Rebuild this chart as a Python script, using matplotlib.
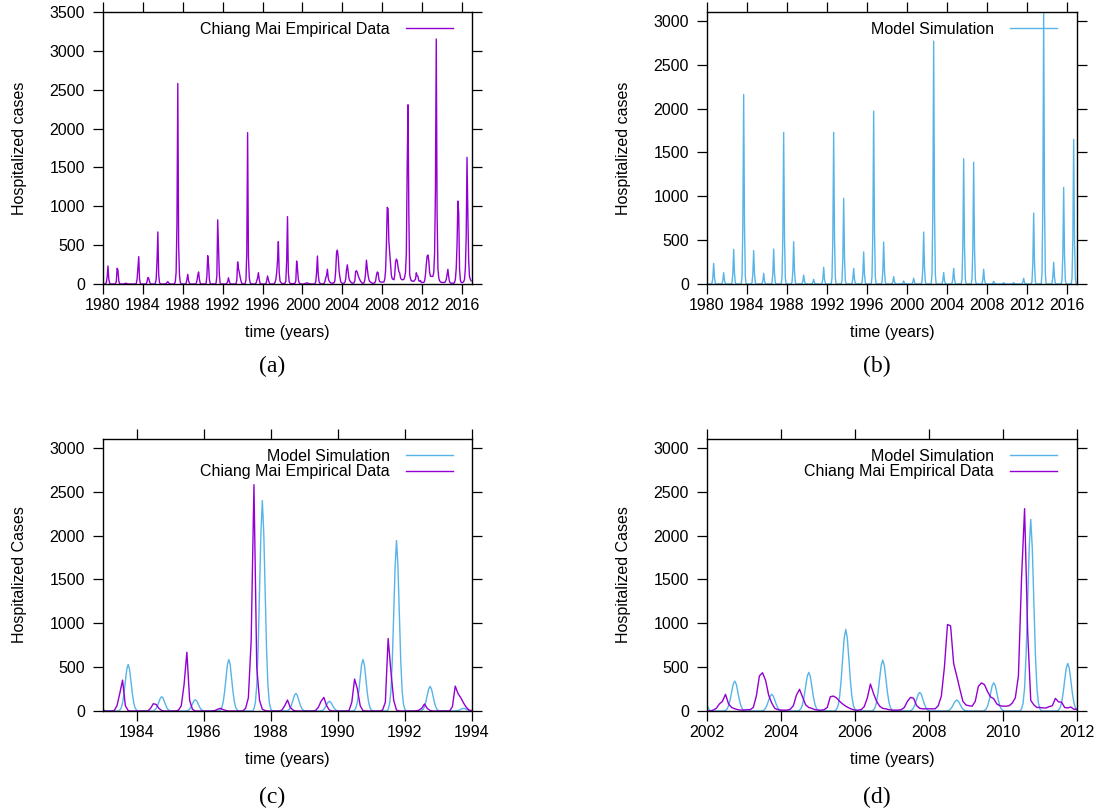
import numpy as np
import matplotlib.pyplot as plt

plt.rcParams['font.family'] = ['Liberation Sans', 'DejaVu Sans']

# monthly hospitalized cases, Chiang Mai, Jan 1980 .. Dec 2016 (one row per year)
empirical = [
    0, 0, 0, 5, 20, 90, 232, 60, 10, 0, 0, 0,               # 1980
    0, 0, 0, 5, 30, 202, 180, 40, 5, 0, 0, 0,               # 1981
    0, 0, 5, 10, 8, 5, 0, 0, 0, 0, 0, 0,                    # 1982
    0, 0, 0, 0, 5, 60, 200, 352, 60, 5, 0, 0,               # 1983
    0, 0, 0, 0, 0, 30, 83, 75, 30, 5, 0, 0,                 # 1984
    0, 0, 0, 10, 60, 300, 670, 120, 20, 0, 0, 0,            # 1985
    0, 0, 0, 0, 5, 20, 30, 15, 5, 0, 0, 0,                  # 1986
    0, 0, 0, 30, 150, 800, 2580, 500, 120, 20, 5, 0,        # 1987
    0, 0, 0, 0, 10, 60, 125, 40, 10, 0, 0, 0,               # 1988
    0, 0, 0, 0, 5, 40, 110, 155, 60, 10, 0, 0,              # 1989
    0, 0, 0, 0, 5, 100, 364, 250, 60, 5, 0, 0,              # 1990
    0, 0, 0, 0, 10, 100, 826, 450, 120, 10, 0, 0,           # 1991
    0, 0, 0, 0, 0, 10, 30, 80, 30, 5, 0, 0,                 # 1992
    0, 0, 0, 0, 0, 50, 284, 200, 150, 90, 40, 10,           # 1993
    5, 0, 0, 5, 50, 400, 1948, 350, 80, 20, 5, 0,           # 1994
    0, 0, 0, 0, 10, 40, 80, 146, 60, 10, 0, 0,              # 1995
    0, 0, 0, 0, 5, 40, 103, 60, 15, 0, 0, 0,                # 1996
    0, 0, 5, 20, 60, 150, 300, 545, 150, 40, 20, 10,        # 1997
    5, 5, 5, 10, 40, 300, 867, 150, 30, 10, 5, 5,           # 1998
    5, 5, 5, 10, 40, 296, 200, 60, 15, 5, 0, 0,             # 1999
    0, 0, 0, 5, 10, 15, 12, 10, 5, 0, 0, 0,                 # 2000
    0, 0, 0, 5, 30, 150, 360, 120, 30, 10, 5, 0,            # 2001
    0, 0, 10, 30, 80, 110, 190, 80, 40, 25, 15, 10,         # 2002
    10, 15, 15, 40, 170, 400, 436, 350, 180, 90, 30, 15,    # 2003
    10, 10, 10, 20, 60, 180, 247, 160, 70, 40, 30, 15,      # 2004
    10, 10, 15, 40, 163, 170, 150, 110, 80, 55, 35, 20,     # 2005
    10, 10, 15, 50, 150, 307, 200, 110, 55, 30, 25, 15,     # 2006
    10, 10, 10, 15, 40, 110, 155, 145, 60, 30, 25, 25,      # 2007
    25, 25, 25, 60, 170, 500, 986, 970, 540, 400, 250, 110, # 2008
    68, 60, 55, 110, 280, 320, 300, 220, 160, 140, 80, 60,  # 2009
    55, 55, 60, 90, 150, 400, 1500, 2306, 900, 120, 70, 40, # 2010
    40, 35, 35, 50, 60, 144, 105, 100, 40, 35, 45, 20,      # 2011
    20, 20, 20, 40, 120, 250, 360, 373, 300, 150, 100, 100, # 2012
    95, 100, 150, 400, 1200, 3153, 900, 200, 80, 40, 30, 20,  # 2013
    20, 20, 20, 20, 30, 60, 120, 189, 90, 30, 15, 10,       # 2014
    10, 10, 10, 20, 60, 200, 500, 1068, 920, 200, 50, 20,   # 2015
    20, 20, 30, 60, 200, 600, 1630, 900, 300, 95, 60, 40,   # 2016
]
emp_start = 1980

# model simulation shown in panel (b), monthly, Jan 1980 .. Dec 2016
model_b = [
    0, 0, 0, 0, 0, 0, 10, 70, 235, 70, 10, 0,        # 1980
    0, 0, 0, 0, 0, 0, 5, 40, 129, 40, 5, 0,          # 1981
    0, 0, 0, 0, 0, 0, 15, 120, 395, 120, 15, 0,      # 1982
    0, 0, 0, 0, 0, 0, 80, 650, 2160, 650, 80, 0,     # 1983
    0, 0, 0, 0, 0, 0, 15, 115, 380, 115, 15, 0,      # 1984
    0, 0, 0, 0, 0, 0, 5, 35, 122, 35, 5, 0,          # 1985
    0, 0, 0, 0, 0, 0, 15, 120, 398, 120, 15, 0,      # 1986
    0, 0, 0, 0, 0, 0, 70, 520, 1728, 520, 70, 0,     # 1987
    0, 0, 0, 0, 0, 0, 20, 145, 482, 145, 20, 0,      # 1988
    0, 0, 0, 0, 0, 0, 5, 30, 102, 30, 5, 0,          # 1989
    0, 0, 0, 0, 0, 0, 2, 15, 53, 15, 2, 0,           # 1990
    0, 0, 0, 0, 0, 0, 8, 55, 190, 55, 8, 0,          # 1991
    0, 0, 0, 0, 0, 0, 70, 520, 1728, 520, 70, 0,     # 1992
    0, 0, 0, 0, 0, 0, 40, 290, 976, 290, 40, 0,      # 1993
    0, 0, 0, 0, 0, 0, 7, 55, 178, 55, 7, 0,          # 1994
    0, 0, 0, 0, 0, 0, 15, 110, 365, 110, 15, 0,      # 1995
    0, 0, 0, 0, 0, 0, 80, 590, 1970, 590, 80, 0,     # 1996
    0, 0, 0, 0, 0, 0, 20, 145, 478, 145, 20, 0,      # 1997
    0, 0, 0, 0, 0, 0, 3, 25, 84, 25, 3, 0,           # 1998
    0, 0, 0, 0, 0, 0, 1, 10, 35, 10, 1, 0,           # 1999
    0, 0, 0, 0, 0, 0, 3, 20, 65, 20, 3, 0,           # 2000
    0, 0, 0, 0, 0, 0, 25, 180, 592, 180, 25, 0,      # 2001
    0, 0, 0, 0, 0, 0, 110, 830, 2768, 830, 110, 0,   # 2002
    0, 0, 0, 0, 0, 0, 5, 40, 131, 40, 5, 0,          # 2003
    0, 0, 0, 0, 0, 0, 7, 55, 178, 55, 7, 0,          # 2004
    0, 0, 0, 0, 0, 0, 55, 430, 1428, 430, 55, 0,     # 2005
    0, 0, 0, 0, 0, 0, 55, 415, 1388, 415, 55, 0,     # 2006
    0, 0, 0, 0, 0, 0, 7, 50, 167, 50, 7, 0,          # 2007
    0, 0, 0, 0, 0, 0, 1, 9, 30, 9, 1, 0,             # 2008
    0, 0, 0, 0, 0, 0, 0, 5, 15, 5, 0, 0,             # 2009
    0, 0, 0, 0, 0, 0, 0, 5, 15, 5, 0, 0,             # 2010
    0, 0, 0, 0, 0, 0, 3, 20, 65, 20, 3, 0,           # 2011
    0, 0, 0, 0, 0, 0, 30, 240, 808, 240, 30, 0,      # 2012
    0, 0, 0, 0, 0, 0, 120, 925, 3090, 925, 120, 0,   # 2013
    0, 0, 0, 0, 0, 0, 10, 75, 247, 75, 10, 0,        # 2014
    0, 0, 0, 0, 0, 0, 45, 330, 1101, 330, 45, 0,     # 2015
    0, 0, 0, 0, 0, 0, 65, 495, 1648, 495, 65, 0,     # 2016
]
model_b_start = 1980

# model simulation of panel (c), half-monthly, Jan 1983 .. Jan 1994
# each row: first half of Jan, second half of Jan, then Jul .. Dec in half months
model_c_rows = [
    (20, 10, [11, 34, 92, 199, 342, 475, 530, 475, 342, 199, 92, 34]),          # 1983
    (11, 0, [3, 11, 28, 61, 105, 146, 163, 146, 105, 61, 28, 11]),              # 1984
    (3, 0, [3, 8, 22, 48, 83, 115, 128, 115, 83, 48, 22, 8]),                   # 1985
    (3, 0, [12, 38, 102, 220, 379, 527, 587, 527, 379, 220, 102, 38]),          # 1986
    (12, 0, [24, 96, 288, 719, 1391, 2038, 2398, 2038, 1391, 719, 288, 96]),    # 1987
    (24, 0, [4, 13, 35, 75, 129, 179, 200, 179, 129, 75, 35, 13]),              # 1988
    (4, 0, [2, 7, 19, 41, 71, 99, 110, 99, 71, 41, 19, 7]),                     # 1989
    (2, 0, [12, 38, 102, 220, 380, 527, 588, 527, 380, 220, 102, 38]),          # 1990
    (12, 0, [19, 78, 233, 583, 1127, 1652, 1943, 1652, 1127, 583, 233, 78]),    # 1991
    (19, 0, [6, 18, 49, 105, 181, 251, 280, 251, 181, 105, 49, 18]),            # 1992
    (6, 0, [1, 2, 5, 11, 19, 27, 30, 27, 19, 11, 5, 2]),                        # 1993
]
model_c_end = 1   # Jan 1994
model_c_start = 1983

# model simulation of panel (d), half-monthly, Jan 2002 .. Jan 2012
model_d_rows = [
    (68, 30, [7, 22, 59, 128, 220, 306, 341, 306, 220, 128, 59, 22]),           # 2002
    (7, 0, [4, 12, 33, 71, 123, 170, 190, 170, 123, 71, 33, 12]),               # 2003
    (4, 0, [9, 29, 77, 165, 284, 395, 440, 395, 284, 165, 77, 29]),             # 2004
    (9, 0, [19, 60, 162, 348, 600, 833, 929, 833, 600, 348, 162, 60]),          # 2005
    (19, 0, [12, 38, 101, 218, 375, 520, 580, 520, 375, 218, 101, 38]),         # 2006
    (12, 0, [4, 14, 37, 80, 137, 190, 212, 190, 137, 80, 37, 14]),              # 2007
    (4, 0, [3, 8, 22, 47, 81, 112, 125, 112, 81, 47, 22, 8]),                   # 2008
    (3, 0, [6, 21, 56, 121, 208, 289, 322, 289, 208, 121, 56, 21]),             # 2009
    (6, 0, [22, 87, 262, 655, 1267, 1856, 2184, 1856, 1267, 655, 262, 87]),     # 2010
    (22, 0, [11, 35, 94, 203, 350, 486, 542, 486, 350, 203, 94, 35]),           # 2011
]
model_d_end = 11  # Jan 2012
model_d_start = 2002

purple = '#9400D3'
blue = '#56B4E9'
emp_label = 'Chiang Mai Empirical Data'
mod_label = 'Model Simulation'


def months(start, values):
    return start + np.arange(len(values)) / 12.0


def half_months(start, rows, last):
    vals = []
    for a, b, second_half in rows:
        vals += [a, b] + [0] * 10 + list(second_half)
    vals.append(last)
    return start + np.arange(len(vals)) / 24.0, vals


t_emp = months(emp_start, empirical)

fig = plt.figure(figsize=(11.01, 8.08), dpi=100)
W, H = 1101, 808


def make_axes(x0, y0, x1, y1):
    return fig.add_axes([x0 / W, 1 - y1 / H, (x1 - x0) / W, (y1 - y0) / H])


def style(ax, ylab):
    ax.tick_params(direction='out', length=7, width=0.9, top=True, right=True,
                   labelsize=11.5, pad=3)
    ax.tick_params(axis='y', pad=6)
    for s in ax.spines.values():
        s.set_linewidth(1.0)
    ax.set_xlabel('time (years)', fontsize=11.5, labelpad=9)
    ax.set_ylabel(ylab, fontsize=11.5)
    ax.yaxis.set_label_coords(-0.205, 0.5)


def add_legend(ax, xanchor):
    ax.legend(loc='upper right', bbox_to_anchor=(xanchor, 0.965), frameon=False,
              markerfirst=False, fontsize=11.5, handlelength=2.95,
              handletextpad=1.0, labelspacing=0.05, borderpad=0, borderaxespad=0)


# (a) empirical data
ax = make_axes(103, 12, 472, 284)
ax.plot(t_emp, empirical, color=purple, lw=1.0, label=emp_label)
ax.set_xlim(1980, 2017)
ax.set_ylim(0, 3500)
ax.set_xticks(np.arange(1980, 2017, 4))
ax.set_yticks(np.arange(0, 3501, 500))
style(ax, 'Hospitalized cases')
add_legend(ax, 0.9485)

# (b) model simulation
ax = make_axes(707, 12, 1077, 284)
ax.plot(months(model_b_start, model_b), model_b, color=blue, lw=1.0, label=mod_label)
ax.set_xlim(1980, 2017)
ax.set_ylim(0, 3100)
ax.set_xticks(np.arange(1980, 2017, 4))
ax.set_yticks(np.arange(0, 3001, 500))
style(ax, 'Hospitalized cases')
add_legend(ax, 0.946)

# (c) 1983-1994 comparison
ax = make_axes(103, 439, 472, 711)
tc, vc = half_months(model_c_start, model_c_rows, model_c_end)
ax.plot(tc, vc, color=blue, lw=1.0, label=mod_label)
ax.plot(t_emp, empirical, color=purple, lw=1.0, label=emp_label)
ax.set_xlim(1983, 1994)
ax.set_ylim(0, 3100)
ax.set_xticks(np.arange(1984, 1995, 2))
ax.set_yticks(np.arange(0, 3001, 500))
style(ax, 'Hospitalized Cases')
add_legend(ax, 0.9485)

# (d) 2002-2012 comparison
ax = make_axes(707, 439, 1077, 711)
td, vd = half_months(model_d_start, model_d_rows, model_d_end)
ax.plot(td, vd, color=blue, lw=1.0, label=mod_label)
ax.plot(t_emp, empirical, color=purple, lw=1.0, label=emp_label)
ax.set_xlim(2002, 2012)
ax.set_ylim(0, 3100)
ax.set_xticks(np.arange(2002, 2013, 2))
ax.set_yticks(np.arange(0, 3001, 500))
style(ax, 'Hospitalized Cases')
add_legend(ax, 0.946)

# panel letters
for x, y, s in [(272, 366, '(a)'), (877, 366, '(b)'), (272, 797, '(c)'), (877, 797, '(d)')]:
    fig.text(x / W, 1 - y / H, s, ha='center', va='center', fontsize=17,
             family='Liberation Serif')

fig.savefig('out.png', dpi=100)
